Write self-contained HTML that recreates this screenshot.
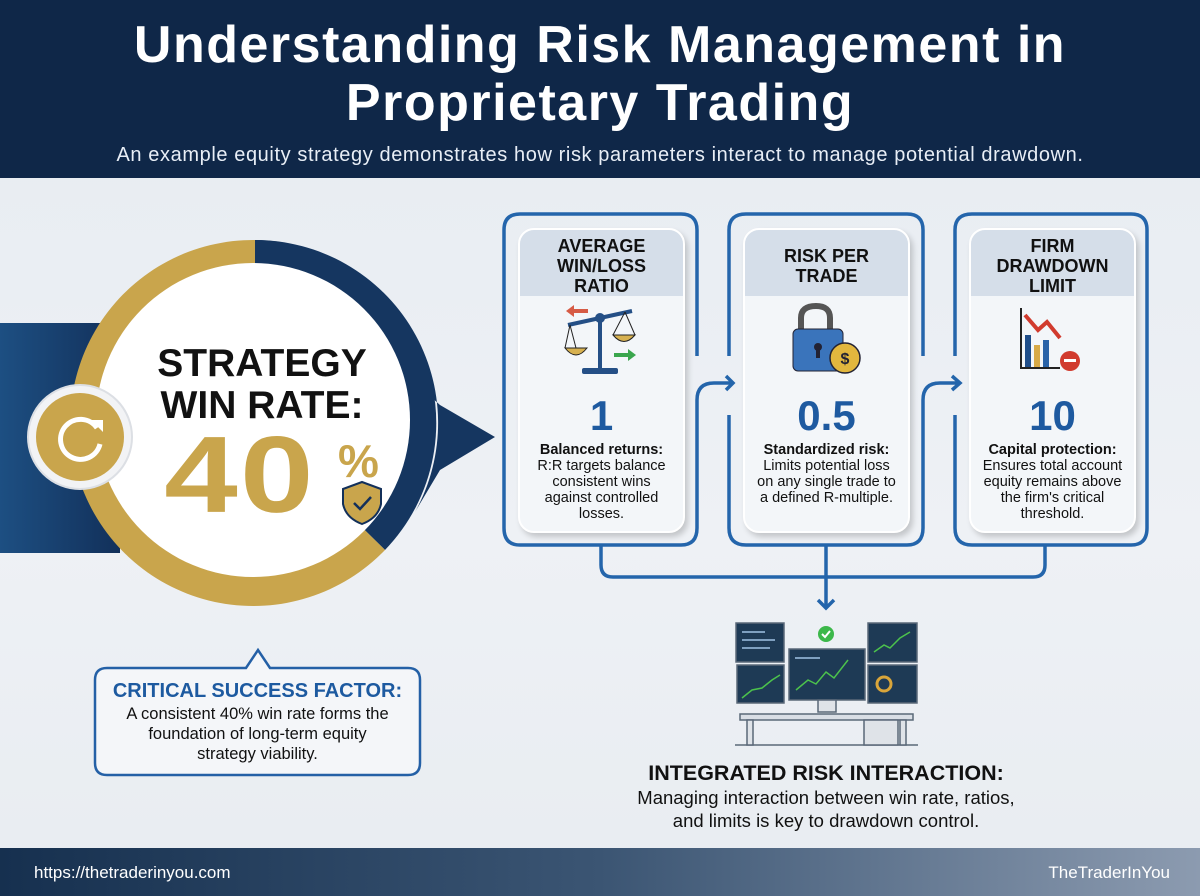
<!DOCTYPE html>
<html><head><meta charset="utf-8"><style>
*{margin:0;padding:0;box-sizing:border-box}
body{width:1200px;height:896px;overflow:hidden;position:relative;font-family:"Liberation Sans",sans-serif;background:linear-gradient(180deg,#e6ebf1,#eef1f5 60%,#e8ecf1)}
.hdr{position:absolute;left:0;top:0;width:1200px;height:178px;background:#0f2748}
.hdr h1{position:absolute;left:0;width:1200px;top:16px;text-align:center;color:#fff;font-size:52px;line-height:58px;font-weight:bold;letter-spacing:1.5px}
.hdr p{position:absolute;left:0;width:1200px;top:144px;text-align:center;color:#e8eef6;font-size:20px;letter-spacing:0.6px}
.ftr{position:absolute;left:0;top:848px;width:1200px;height:48px;background:linear-gradient(90deg,#16304f,#3b5573 50%,#8c9bb0)}
.ftr span{position:absolute;top:15px;color:#fff;font-size:17px}
.t{position:absolute;text-align:center;font-weight:bold}
.card{position:absolute;top:228px;width:167px;height:305px;background:#f3f6f9;border-radius:16px;box-shadow:3px 4px 6px rgba(0,0,0,.18);border:2px solid #fff;overflow:hidden}
.card .hd{height:66px;background:#d5dee9;font-weight:bold;font-size:18px;line-height:20px;text-align:center;color:#111;padding-top:6px}
.card .num{position:absolute;top:162px;width:100%;text-align:center;font-size:42px;font-weight:bold;color:#1e5aa0}
.card .desc{position:absolute;top:212px;width:100%;text-align:center;font-size:14.5px;line-height:16px;color:#111}
</style></head><body>
<div class="hdr"><h1>Understanding Risk Management in<br>Proprietary Trading</h1>
<p>An example equity strategy demonstrates how risk parameters interact to manage potential drawdown.</p></div>

<svg width="1200" height="896" style="position:absolute;left:0;top:0">
<defs><linearGradient id="nv" x1="0" x2="1"><stop offset="0" stop-color="#1d4f82"/><stop offset="1" stop-color="#12305a"/></linearGradient></defs>
<rect x="0" y="323" width="120" height="230" fill="url(#nv)"/>
<path d="M255 240 A183 183 0 0 1 415 512 L440 470 L495 437 L440 405 Z" fill="#153660"/>
<path d="M255 240 A183 183 0 0 1 385 550 L255 422 Z" fill="#153660"/>
<path d="M385 550 A183 183 0 1 1 255 240 L255 422 Z" fill="#c9a54c"/>
<circle cx="253" cy="420" r="157" fill="#fff"/>
<circle cx="80" cy="437" r="52" fill="#f2f3f5" stroke="#dcdfe4" stroke-width="2"/>
<circle cx="80" cy="437" r="44" fill="#c9a54c"/>
<path d="M97 428 A20 20 0 1 0 100 444" fill="none" stroke="#fff" stroke-width="5"/>
<path d="M91 420 L103 420 L103 432 Z" fill="#fff"/>
<path d="M362 482 L381 489 L381 504 Q378 518 362 524 Q346 518 343 504 L343 489 Z" fill="#c9a54c" stroke="#13305a" stroke-width="2"/>
<path d="M354 503 L360 509 L371 497" fill="none" stroke="#13305a" stroke-width="2.5"/>
<path d="M107 668 L246 668 L258 650 L270 668 L408 668 Q420 668 420 680 L420 763 Q420 775 408 775 L107 775 Q95 775 95 763 L95 680 Q95 668 107 668 Z" fill="#f4f6f9" stroke="#2460a6" stroke-width="2.5"/>
<g fill="none" stroke="#2465ab" stroke-width="3.5">
<path d="M697 356 L697 230 Q697 214 681 214 L520 214 Q504 214 504 230 L504 528 Q504 545 520 545 L681 545 Q697 545 697 528 L697 415"/>
<path d="M923 356 L923 230 Q923 214 907 214 L746 214 Q729 214 729 230 L729 356 M729 415 L729 528 Q729 545 746 545 L907 545 Q923 545 923 528 L923 415"/>
<path d="M1147 528 L1147 230 Q1147 214 1131 214 L972 214 Q955 214 955 230 L955 356 M955 415 L955 528 Q955 545 972 545 L1131 545 Q1147 545 1147 528"/>
<path d="M697 415 L697 400 Q697 383 714 383 L733 383 M726 376 L733 383 L726 390"/>
<path d="M923 415 L923 400 Q923 383 940 383 L960 383 M952 376 L960 383 L952 390"/>
<path d="M601 545 L601 565 Q601 577 613 577 L1033 577 Q1045 577 1045 565 L1045 545"/>
<path d="M826 545 L826 608 M818 600 L826 608 L834 600"/>
</g>
<g stroke="#5a6878" stroke-width="1.5">
<line x1="735" y1="745" x2="918" y2="745"/>
<rect x="740" y="714" width="173" height="6" fill="#d9dee5"/>
<rect x="747" y="720" width="6" height="25" fill="#dfe3e8"/><rect x="900" y="720" width="6" height="25" fill="#dfe3e8"/>
<rect x="864" y="720" width="34" height="25" fill="#dfe3e8"/>
<rect x="736" y="623" width="48" height="39" fill="#1e3a55"/>
<rect x="737" y="665" width="47" height="38" fill="#1e3a55"/>
<rect x="789" y="649" width="76" height="51" fill="#1e3a55"/>
<rect x="868" y="623" width="49" height="39" fill="#1e3a55"/>
<rect x="868" y="665" width="49" height="38" fill="#1e3a55"/>
<rect x="818" y="700" width="18" height="12" fill="#dfe3e8"/>
</g>
<g fill="none" stroke="#4cc24c" stroke-width="1.5">
<path d="M796 690 L808 680 L816 684 L826 672 L834 678 L848 660"/>
<path d="M742 698 L752 690 L762 688 L772 680 L780 675"/>
<path d="M874 652 L884 645 L890 648 L900 638 L910 632"/>
<circle cx="884" cy="684" r="7" stroke="#d9a53a" stroke-width="3"/>
</g>
<g stroke="#7fa0c0" stroke-width="2"><line x1="742" y1="632" x2="765" y2="632"/><line x1="742" y1="640" x2="775" y2="640"/><line x1="742" y1="648" x2="770" y2="648"/><line x1="795" y1="658" x2="820" y2="658"/></g>
<circle cx="826" cy="634" r="8" fill="#3cb84a"/>
<path d="M822 634 L825 637 L830 631" stroke="#fff" stroke-width="2" fill="none"/>
</svg>

<div class="t" style="left:142px;top:343px;width:240px;font-size:39px;line-height:42px;color:#111">STRATEGY<br>WIN RATE:</div>
<div class="t" style="left:150px;top:418px;width:180px;font-size:118px;line-height:124px;color:#c9a54c;letter-spacing:2px;transform:scale(1.12,0.92);transform-origin:center top">40</div>
<div class="t" style="left:338px;top:434px;font-size:46px;color:#c9a54c">%</div>
<div class="t" style="left:95px;top:680px;width:325px;font-size:20px;color:#1d5aa0">CRITICAL SUCCESS FACTOR:</div>
<div class="t" style="left:95px;top:704px;width:325px;font-size:16.5px;line-height:20px;font-weight:normal;color:#111">A consistent 40% win rate forms the<br>foundation of long-term equity<br>strategy viability.</div>

<div class="card" style="left:518px"><div class="hd">AVERAGE<br>WIN/LOSS<br>RATIO</div><div class="num">1</div><div class="desc"><b>Balanced returns:</b><br>R:R targets balance<br>consistent wins<br>against controlled<br>losses.</div></div>
<div class="card" style="left:743px"><div class="hd" style="padding-top:16px">RISK PER<br>TRADE</div><div class="num">0.5</div><div class="desc"><b>Standardized risk:</b><br>Limits potential loss<br>on any single trade to<br>a defined R-multiple.</div></div>
<div class="card" style="left:969px"><div class="hd">FIRM<br>DRAWDOWN<br>LIMIT</div><div class="num">10</div><div class="desc"><b>Capital protection:</b><br>Ensures total account<br>equity remains above<br>the firm's critical<br>threshold.</div></div>

<svg width="1200" height="896" style="position:absolute;left:0;top:0">
<line x1="600" y1="316" x2="600" y2="370" stroke="#244f86" stroke-width="4"/>
<line x1="568" y1="325" x2="632" y2="311" stroke="#244f86" stroke-width="4"/>
<circle cx="600" cy="318" r="5" fill="#244f86"/>
<rect x="582" y="368" width="36" height="6" rx="2" fill="#244f86"/>
<path d="M565 348 L587 348 Q576 362 565 348Z" fill="#d7b150" stroke="#222"/>
<path d="M613 335 L635 335 Q624 348 613 335Z" fill="#d7b150" stroke="#222"/>
<path d="M570 325 L576 348 M570 325 L565 348 M625 312 L613 335 M625 312 L635 335" stroke="#222" stroke-width="1"/>
<path d="M572 311 L588 311" stroke="#d65b45" stroke-width="4"/><path d="M566 311 L574 305 L574 317Z" fill="#d65b45"/>
<path d="M614 355 L628 355" stroke="#3aa64d" stroke-width="4"/><path d="M636 355 L628 349 L628 361Z" fill="#3aa64d"/>
<path d="M801 330 L801 318 Q801 306 816 306 Q830 306 830 318 L830 330" fill="none" stroke="#555" stroke-width="6"/>
<rect x="793" y="329" width="50" height="42" rx="5" fill="#3a74bb" stroke="#223"/>
<circle cx="818" cy="347" r="4" fill="#223"/><rect x="816" y="348" width="4" height="10" fill="#223"/>
<circle cx="845" cy="358" r="15" fill="#e2b73e" stroke="#223" stroke-width="1.5"/>
<text x="845" y="364" font-size="16" font-weight="bold" text-anchor="middle" fill="#223" font-family="Liberation Sans">$</text>
<rect x="1025" y="335" width="6" height="32" fill="#1f4e8a"/>
<rect x="1034" y="345" width="6" height="22" fill="#d8aa47"/>
<rect x="1043" y="340" width="6" height="27" fill="#2a63a8"/>
<path d="M1021 308 L1021 368 L1060 368" fill="none" stroke="#222" stroke-width="2"/>
<path d="M1025 315 L1038 330 L1047 322 L1060 338" fill="none" stroke="#d13b2e" stroke-width="4"/>
<circle cx="1070" cy="361" r="10" fill="#d13b2e"/>
<rect x="1064" y="359" width="12" height="3" fill="#fff"/>
</svg>

<div class="t" style="left:600px;top:761px;width:452px;font-size:21.5px;color:#111">INTEGRATED RISK INTERACTION:</div>
<div class="t" style="left:570px;top:786px;width:512px;font-size:18.5px;line-height:23px;font-weight:normal;color:#111">Managing interaction between win rate, ratios,<br>and limits is key to drawdown control.</div>

<div class="ftr"><span style="left:34px">https://thetraderinyou.com</span><span style="right:30px">TheTraderInYou</span></div>
</body></html>
